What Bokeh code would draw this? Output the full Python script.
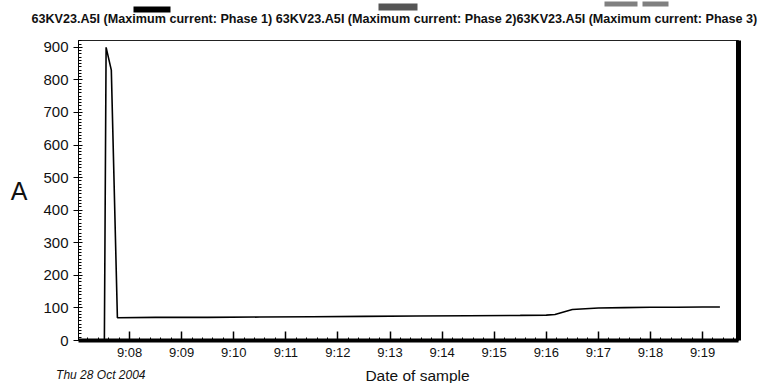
from bokeh.plotting import figure
from bokeh.layouts import column
from bokeh.models import LinearAxis, FixedTicker, Range1d
from bokeh.core.properties import value
from bokeh.embed import file_html
from bokeh.resources import INLINE

# ---- data ----
sample_times = ["9:07:31", "9:07:33", "9:07:39", "9:07:46", "9:08:30", "9:09:30",
                "9:10:30", "9:11:30", "9:12:30", "9:13:30", "9:14:30", "9:15:30",
                "9:16:00", "9:16:10", "9:16:30", "9:17:00", "9:17:30", "9:18:00",
                "9:18:30", "9:19:00", "9:19:20"]
phase1_current = [0, 900, 830, 70, 71, 71, 72, 73, 74, 75, 76, 77,
                  78, 80, 95, 100, 101, 102, 102, 103, 103]
tick_labels = ["9:08", "9:09", "9:10", "9:11", "9:12", "9:13",
               "9:14", "9:15", "9:16", "9:17", "9:18", "9:19"]
y_ticks = [0, 100, 200, 300, 400, 500, 600, 700, 800, 900]
series_names = ["63KV23.A5I (Maximum current: Phase 1)",
                "63KV23.A5I (Maximum current: Phase 2)",
                "63KV23.A5I (Maximum current: Phase 3)"]
series_colors = ["#000000", "#555555", "#808080"]
date_text = "Thu 28 Oct 2004"
x_title = "Date of sample"
y_title = "A"


def to_minutes(t):
    parts = [int(v) for v in t.split(":")]
    h, m = parts[0], parts[1]
    s = parts[2] if len(parts) > 2 else 0
    return h * 60 + m + s / 60.0 - 9 * 60


xs = [to_minutes(t) for t in sample_times]
tick_pos = [to_minutes(t) for t in tick_labels]

FONT = "Liberation Sans"
W = 762
H_HEAD, H_MAIN, H_FOOT = 32, 330, 21
TEXT_COLOR = "#111111"


def strip(height):
    f = figure(width=W, height=height, output_backend="svg", toolbar_location=None,
               x_range=Range1d(0, W), y_range=Range1d(height, 0),
               x_axis_type=None, y_axis_type=None, frame_align=False,
               min_border=0, min_border_left=0, min_border_right=0,
               min_border_top=0, min_border_bottom=0)
    f.outline_line_color = None
    f.grid.visible = False
    return f


# ---------------- header (series legend) ----------------
head = strip(H_HEAD)
header_text = series_names[0] + " " + series_names[1] + series_names[2]
head.text(x=[31], y=[18], text=[header_text],
          text_font=value(FONT), text_font_size="12.6px", text_font_style="bold",
          text_align="left", text_baseline="middle", text_color=TEXT_COLOR)
head.quad(left=[133], right=[170], top=[6], bottom=[12], fill_color=series_colors[0],
          line_color=None)
head.quad(left=[378], right=[417], top=[3], bottom=[10], fill_color=series_colors[1],
          line_color=None)
head.quad(left=[604, 642], right=[637, 668], top=[1, 1], bottom=[6, 6],
          fill_color=series_colors[2], line_color=None)

# ---------------- main chart ----------------
L, R, T, B = 78, 24, 8, 21
p = figure(width=W, height=H_MAIN, output_backend="svg", toolbar_location=None,
           x_range=Range1d(7.02, 19.69), y_range=Range1d(0, 921), frame_align=False,
           min_border_left=L, min_border_right=R, min_border_top=T, min_border_bottom=B,
           background_fill_color="white", border_fill_color="white")
p.grid.visible = False
p.outline_line_color = "#222222"
p.outline_line_width = 1

p.line(xs, phase1_current, line_color=series_colors[0], line_width=1.6)

xa = p.xaxis[0]
xa.ticker = FixedTicker(ticks=tick_pos,
                        minor_ticks=[7 + i / 5.0 for i in range(0, 65)])
xa.major_label_overrides = {tp: lab for tp, lab in zip(tick_pos, tick_labels)}
xa.axis_line_width = 4
xa.axis_line_color = "black"
xa.major_tick_in = 9
xa.major_tick_out = 0
xa.minor_tick_in = 3
xa.minor_tick_out = 0
xa.major_tick_line_width = 1.5
xa.major_label_standoff = 4
xa.major_label_text_font = FONT
xa.major_label_text_font_size = "13px"
xa.major_label_text_color = TEXT_COLOR

ya = p.yaxis[0]
ya.ticker = FixedTicker(ticks=y_ticks, minor_ticks=list(range(0, 921, 10)))
ya.axis_line_color = "black"
ya.major_tick_in = 4
ya.major_tick_out = 5
ya.minor_tick_in = 3
ya.minor_tick_out = 0
ya.major_label_standoff = 5
ya.major_label_text_font = FONT
ya.major_label_text_font_size = "15px"
ya.major_label_text_color = TEXT_COLOR
ya.axis_label = y_title
ya.axis_label_orientation = "horizontal"
ya.axis_label_text_font = FONT
ya.axis_label_text_font_size = "25px"
ya.axis_label_text_font_style = "normal"
ya.axis_label_text_color = TEXT_COLOR
ya.axis_label_standoff = 13

ra = LinearAxis(major_tick_line_color=None, minor_tick_line_color=None,
                major_label_text_font_size="0px", axis_line_width=5,
                axis_line_color="black", ticker=FixedTicker(ticks=[]))
p.add_layout(ra, "right")

# ---------------- footer (date and axis title) ----------------
foot = strip(H_FOOT)
foot.text(x=[145], y=[12], text=[date_text], text_font=value(FONT),
          text_font_size="12px", text_font_style="italic", text_align="right",
          text_baseline="middle", text_color=TEXT_COLOR)
foot.text(x=[417], y=[13], text=[x_title], text_font=value(FONT),
          text_font_size="15.5px", text_align="center", text_baseline="middle",
          text_color=TEXT_COLOR)

layout = column(head, p, foot, spacing=0)
open("out.html", "w").write(file_html(layout, INLINE))
